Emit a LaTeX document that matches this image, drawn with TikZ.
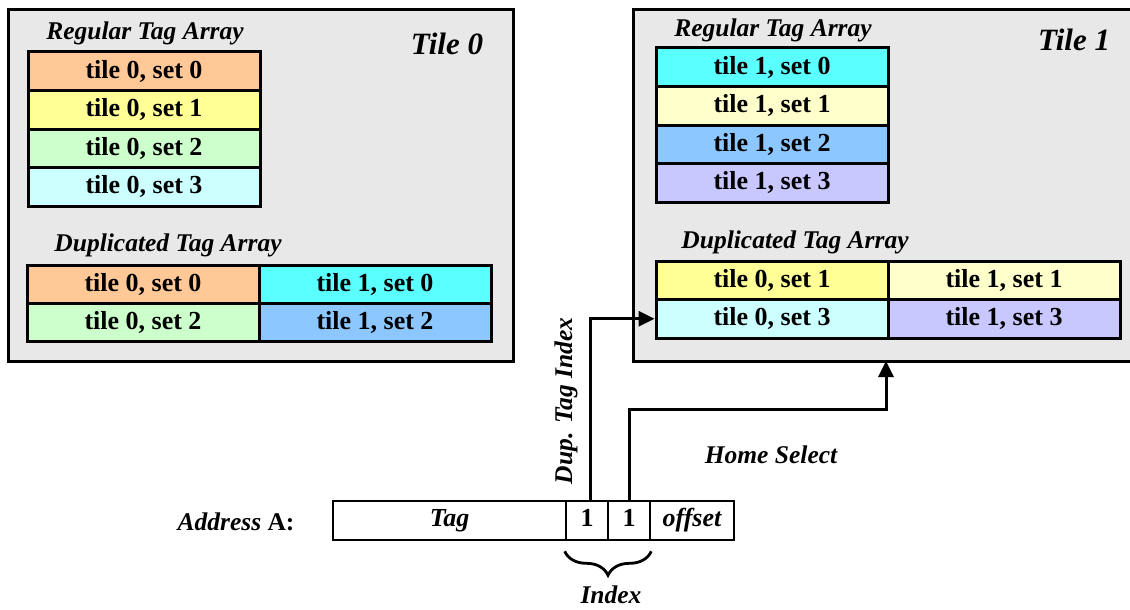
\documentclass[tikz,border=0pt]{standalone}
\usepackage{fontspec}
\setmainfont{Liberation Serif}
\usepackage{tikz}
\usetikzlibrary{arrows.meta, positioning, calc, decorations.pathreplacing}
\definecolor{tilegray}{RGB}{232, 232, 232}
\definecolor{peach}{RGB}{255, 200, 150}
\definecolor{lemon}{RGB}{255, 255, 150}
\definecolor{mint}{RGB}{204, 255, 204}
\definecolor{icecyan}{RGB}{204, 255, 255}
\definecolor{aqua}{RGB}{90, 255, 255}
\definecolor{cream}{RGB}{255, 255, 204}
\definecolor{skyblue}{RGB}{140, 200, 255}
\definecolor{lavender}{RGB}{200, 200, 255}

\begin{document}
\begin{tikzpicture}[
    x=1pt, y=-1pt,
    tilebox/.style={draw, line width=3pt, fill=tilegray},
    cell/.style={rectangle, draw, line width=3pt, minimum width=232pt, minimum height=38.5pt, inner sep=0pt, font=\fontsize{26}{30}\selectfont\bfseries},
    field/.style={rectangle, draw, line width=2.6pt, minimum height=39pt, inner sep=0pt, text height=17pt, text depth=5pt, font=\fontsize{26}{30}\selectfont\bfseries},
    lbl/.style={font=\fontsize{25.5}{30}\selectfont\bfseries\itshape},
    tilelbl/.style={font=\fontsize{31}{36}\selectfont\bfseries\itshape},
    arrow/.style={-{Triangle[length=16pt, width=15pt]}, line width=3pt}
]
    \useasboundingbox (0,0) rectangle (1130,610);

    % Tiles
    \draw[tilebox] (8,10) rectangle (513,361);
    \draw[tilebox] (633,10) rectangle (1145,361);
    \coordinate (tileBsouth) at (886,361);
    \node[tilelbl] (tileAname) at (447,44) {Tile 0};
    \node[tilelbl] (tileBname) at (1074,40) {Tile 1};

    % Tile 0, regular tag array
    \node[lbl] (regA) at (145,33) {Regular Tag Array};
    \node[cell, fill=peach] (ra0) at (144,71.25) {tile 0, set 0};
    \node[cell, fill=lemon] (ra1) at (144,109.75) {tile 0, set 1};
    \node[cell, fill=mint] (ra2) at (144,148.25) {tile 0, set 2};
    \node[cell, fill=icecyan] (ra3) at (144,186.75) {tile 0, set 3};

    % Tile 0, duplicated tag array
    \node[lbl] (dupA) at (168,245) {Duplicated Tag Array};
    \node[cell, fill=peach, minimum height=38pt] (da00) at (143,284) {tile 0, set 0};
    \node[cell, fill=aqua, minimum height=38pt] (da10) at (375,284) {tile 1, set 0};
    \node[cell, fill=mint, minimum height=38pt] (da02) at (143,322) {tile 0, set 2};
    \node[cell, fill=skyblue, minimum height=38pt] (da12) at (375,322) {tile 1, set 2};

    % Tile 1, regular tag array
    \node[lbl] (regB) at (773,30) {Regular Tag Array};
    \node[cell, fill=aqua] (rb0) at (772,67.25) {tile 1, set 0};
    \node[cell, fill=cream] (rb1) at (772,105.75) {tile 1, set 1};
    \node[cell, fill=skyblue] (rb2) at (772,144.25) {tile 1, set 2};
    \node[cell, fill=lavender] (rb3) at (772,182.75) {tile 1, set 3};

    % Tile 1, duplicated tag array
    \node[lbl] (dupB) at (795,242) {Duplicated Tag Array};
    \node[cell, fill=lemon] (db01) at (772,280.25) {tile 0, set 1};
    \node[cell, fill=cream] (db11) at (1004,280.25) {tile 1, set 1};
    \node[cell, fill=icecyan] (db03) at (772,318.75) {tile 0, set 3};
    \node[cell, fill=lavender] (db13) at (1004,318.75) {tile 1, set 3};

    % Address
    \node[lbl, anchor=east] (addrname) at (298,522) {Address \upshape A:};
    \node[field, minimum width=233pt] (tag) at (449.5,520.5) {\itshape Tag};
    \node[field, minimum width=42pt] (bitA) at (587,520.5) {1};
    \node[field, minimum width=42pt] (bitB) at (629,520.5) {1};
    \node[field, minimum width=84pt] (offset) at (692,520.5) {\itshape offset};

    % Index brace
    \draw[decorate, decoration={brace, amplitude=24pt}, line width=2.8pt]
        (bitB.south east) ++(0,10) -- ($(bitA.south west)+(0,10)$);
    \node[lbl] (index) at (611,595) {Index};

    % Lookup paths
    \draw[arrow] ([xshift=3pt]bitA.north) |- (db03.west);
    \node[lbl, rotate=90] (dupidx) at (566,401) {Dup. Tag Index};
    \draw[arrow] (bitB.north) -- ++(0,-90) -| (tileBsouth);
    \node[lbl] (homesel) at (771,455) {Home Select};

\end{tikzpicture}
\end{document}
